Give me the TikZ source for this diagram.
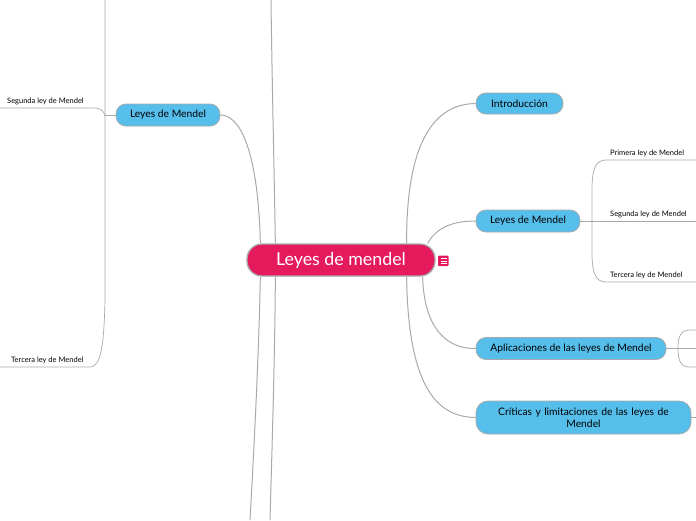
\documentclass[tikz,border=0pt]{standalone}
\usepackage{fontspec}
\setmainfont{Lato}
\usepackage{xcolor}
\usetikzlibrary{positioning,calc}
\definecolor{rootpink}{HTML}{E51A5D}
\definecolor{topicblue}{HTML}{56BEEB}
\definecolor{linkgray}{HTML}{A9A9A9}

\begin{document}
\begin{tikzpicture}[x=1pt,y=-1pt,
  rootbox/.style={draw=linkgray,line width=1.3pt,fill=rootpink,text=white,rounded corners=15pt,
    minimum width=188pt,minimum height=32pt,inner sep=0pt,font=\fontsize{17.8}{20}\selectfont},
  topicbox/.style={draw=linkgray,line width=0.8pt,fill=topicblue,rounded corners=10pt,
    minimum height=22pt,inner sep=0pt,font=\fontsize{10.3}{12}\selectfont},
  leaf/.style={inner sep=1pt,anchor=south west,font=\fontsize{7.5}{9}\selectfont},
  link/.style={draw=linkgray,line width=1pt},
  twig/.style={draw=linkgray,line width=0.7pt}]
  \useasboundingbox (0,0) rectangle (696,520);

  % main topic and its branches
  \node[rootbox] (root) at (341,260) {Leyes de mendel};
  \node[topicbox,minimum width=104pt] (leyesL) at (168,115) {Leyes de Mendel};
  \node[topicbox,minimum width=87pt,minimum height=21pt] (intro) at (519.5,103.5) {Introducción};
  \node[topicbox,minimum width=104pt] (leyesR) at (528,221) {Leyes de Mendel};
  \node[topicbox,minimum width=190pt] (aplic) at (571,348.5) {Aplicaciones de las leyes de Mendel};
  \node[topicbox,minimum width=215pt,minimum height=33pt,rounded corners=12pt,text width=205pt,align=center] (critic) at (583.5,417.5) {Críticas y limitaciones de las leyes de\\Mendel};

  % note icon
  \fill[rootpink,rounded corners=1pt] (438,255.5) rectangle (448.5,266);
  \foreach \yy in {258.5,261,263.5}
    \draw[white,line width=0.7pt] (440.5,\yy) -- (446.5,\yy);

  % connectors from the root
  \draw[link] ($(root.north west)+(14,0)$) .. controls (258,150) and (240,115) .. (leyesL.east);
  \draw[link] ($(root.north west)+(29,0)$) .. controls (274,160) and (272,80) .. (271,0);
  \draw[link] ($(root.south west)+(14,0)$) .. controls (259,350) and (254,450) .. (250,520);
  \draw[link] ($(root.south west)+(29,0)$) .. controls (275,350) and (272,450) .. (270,520);
  \draw[link] ($(root.north east)+(-29,0)$) .. controls (406,150) and (430,104) .. (intro.west);
  \draw[link] ($(root.north east)+(-8,0)$) .. controls (436,228) and (452,221) .. (leyesR.west);
  \draw[link] ($(root.south east)+(-13,0)$) .. controls (424,330) and (448,349) .. (aplic.west);
  \draw[link] ($(root.south east)+(-29,0)$) .. controls (408,392) and (440,417) .. (critic.west);

  % left Leyes de Mendel
  \coordinate (lfork) at (105,115);
  \draw[twig] (leyesL.west) -- (lfork);
  \draw[twig] (105,0) -- (105,300) .. controls (104,345) and (101,367) .. (90,367) -- (0,367);
  \draw[twig] (0,108) -- (93,108) .. controls (101,108) and (104,111) .. (105,116);
  \node[leaf] (segL) at (6,106) {Segunda ley de Mendel};
  \node[leaf] (terL) at (10,365) {Tercera ley de Mendel};

  % right Leyes de Mendel
  \coordinate (rfork) at (592,221);
  \draw[twig] (leyesR.east) -- (696,221);
  \draw[twig] (696,160) -- (606,160) .. controls (595,160) and (592,170) .. (592,190) -- (592,252)
    .. controls (592,272) and (595,282) .. (606,282) -- (696,282);
  \node[leaf] (prim) at (609,158) {Primera ley de Mendel};
  \node[leaf] (seg) at (609,219) {Segunda ley de Mendel};
  \node[leaf] (ter) at (609,280) {Tercera ley de Mendel};

  % Aplicaciones branches
  \draw[twig] (aplic.east) -- (696,348.5);
  \draw[twig] (696,330) -- (690,330) .. controls (681,330) and (678,336) .. (678,348.5)
    .. controls (678,361) and (681,367) .. (690,367) -- (696,367);

  % Criticas branch
  \draw[twig] (critic.east) -- (696,417.5);
\end{tikzpicture}
\end{document}
